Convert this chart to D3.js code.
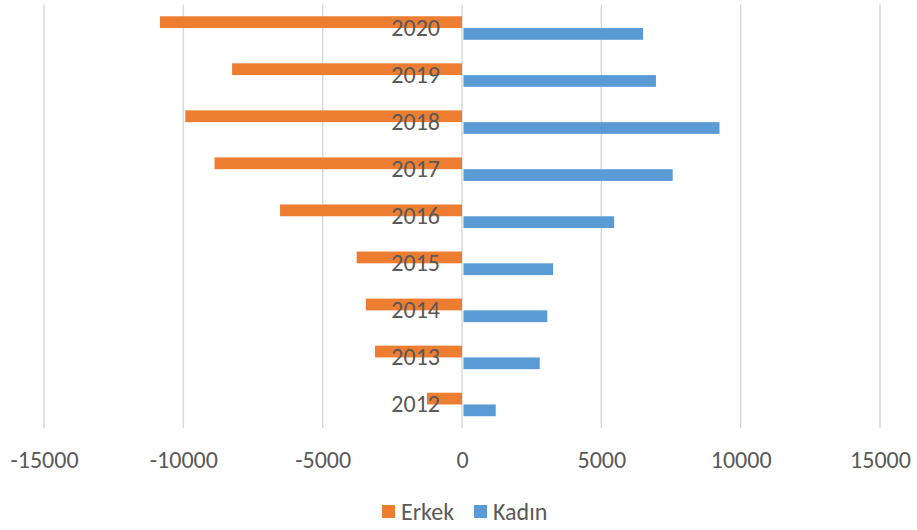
<!DOCTYPE html>
<html>
<head>
<meta charset="utf-8">
<script src="https://cdn.jsdelivr.net/npm/d3@7"></script>
<style>
  body { margin: 0; background: #fff; }
  text { font-family: Carlito, Calibri, 'Liberation Sans', sans-serif; fill: #595959; }
</style>
</head>
<body>
<div id="chart"></div>
<script>
const years = ['2020', '2019', '2018', '2017', '2016', '2015', '2014', '2013', '2012']
const erkek = [-10840, -8250, -9930, -8880, -6530, -3780, -3450, -3120, -1260]
const kadin = [6500, 6960, 9240, 7560, 5460, 3270, 3060, 2790, 1210]
const seriesNames = ['Erkek', 'Kadın']
const seriesColors = ['#ED7D31', '#5B9BD5']
const xTicks = [-15000, -10000, -5000, 0, 5000, 10000, 15000]

const W = 917, H = 530
const plot = {left: 44, right: 880, top: 4.5, bottom: 428}
const fontSize = 24

const svg = d3.select('#chart')
    .append('svg')
    .attr('width', W)
    .attr('height', H)

const data = years.map((y, i) => ({year: y, values: [erkek[i], kadin[i]]}))

const x = d3.scaleLinear()
    .domain([-15000, 15000])
    .range([plot.left, plot.right])

const y = d3.scaleBand()
    .domain(years)
    .range([plot.top, plot.bottom])
    .paddingInner(0.5)
    .paddingOuter(0.25)

const ySeries = d3.scaleBand()
    .domain([0, 1])
    .range([0, y.bandwidth()])

// gridlines
svg.append('g')
    .selectAll('line')
    .data(xTicks)
    .enter()
    .append('line')
    .attr('x1', d => x(d))
    .attr('x2', d => x(d))
    .attr('y1', plot.top)
    .attr('y2', plot.bottom)
    .attr('stroke', '#D9D9D9')
    .attr('stroke-width', 1.5)

// bars
const groups = svg.append('g')
    .selectAll('g')
    .data(data)
    .enter()
    .append('g')
    .attr('transform', d => `translate(0, ${y(d.year)})`)

groups.selectAll('rect')
    .data(d => d.values)
    .enter()
    .append('rect')
    .attr('x', d => x(Math.min(0, d)) + (d > 0 ? 1.5 : 0))
    .attr('y', (d, i) => ySeries(i))
    .attr('width', d => Math.abs(x(d) - x(0)) - (d > 0 ? 1.5 : 0))
    .attr('height', ySeries.bandwidth())
    .attr('fill', (d, i) => seriesColors[i])

// x axis
const bottomAxis = d3.axisBottom(x)
    .tickValues(xTicks)
    .tickSize(0)
    .tickPadding(23)
    .tickFormat(d => d)
svg.append('g')
    .attr('transform', `translate(0, ${plot.bottom})`)
    .call(bottomAxis)
    .call(g => g.select('.domain').remove())
    .selectAll('text')
    .attr('font-size', fontSize)
    .attr('font-family', null)
    .attr('fill', null)

// category axis, drawn over the bars
const leftAxis = d3.axisLeft(y)
    .tickSize(0)
    .tickPadding(22)
svg.append('g')
    .attr('transform', `translate(${x(0)}, 0)`)
    .call(leftAxis)
    .call(g => g.select('.domain').remove())
    .selectAll('text')
    .attr('font-size', fontSize)
    .attr('font-family', null)
    .attr('fill', null)

// legend
const legend = svg.append('g')
const legendX = [382, 474]
seriesNames.forEach((name, i) => {
    legend.append('rect')
        .attr('x', legendX[i])
        .attr('y', 505)
        .attr('width', 13)
        .attr('height', 13)
        .attr('fill', seriesColors[i])
    legend.append('text')
        .attr('x', legendX[i] + 19)
        .attr('y', 511.5)
        .attr('dy', '0.35em')
        .attr('font-size', fontSize)
        .text(name)
})
</script>
</body>
</html>
